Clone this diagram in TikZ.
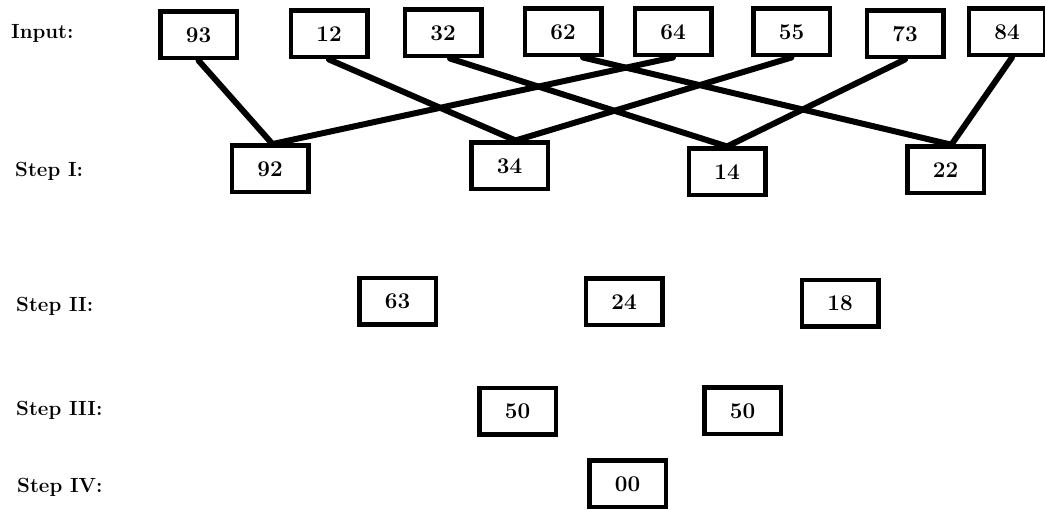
\documentclass[tikz,border=0pt]{standalone}
\usepackage{fontspec}
\begin{document}
\begin{tikzpicture}[x=1pt,y=-1pt,
  numbox/.style={draw=black,line width=4.5pt,minimum width=76.5pt,minimum height=46.5pt,inner sep=0pt,
    font=\fontsize{22.5}{26}\selectfont\bfseries},
  rowlabel/.style={anchor=base west,inner sep=0pt,font=\fontsize{20.5}{24}\selectfont\bfseries},
  link/.style={line width=6pt,line cap=round}]
\useasboundingbox (0,0) rectangle (1045,510);
% labels
\node[rowlabel] (lin) at (11,39) {Input:};
\node[rowlabel] (l1) at (15,177) {Step I:};
\node[rowlabel] (l2) at (16,311.5) {Step II:};
\node[rowlabel] (l3) at (16,415.5) {Step III:};
\node[rowlabel] (l4) at (17,492.5) {Step IV:};
% input row
\node[numbox] (i93) at (198.5,35) {93};
\node[numbox] (i12) at (329,34) {12};
\node[numbox] (i32) at (443,33) {32};
\node[numbox] (i62) at (563,32) {62};
\node[numbox] (i64) at (673,32) {64};
\node[numbox] (i55) at (791.5,32) {55};
\node[numbox] (i73) at (905,34) {73};
\node[numbox] (i84) at (1007,32) {84};
% step I
\node[numbox] (s92) at (270,169) {92};
\node[numbox] (s34) at (509.5,166) {34};
\node[numbox] (s14) at (727,172) {14};
\node[numbox] (s22) at (945.5,170) {22};
% step II
\node[numbox] (t63) at (397.5,301.5) {63};
\node[numbox] (t24) at (624,302) {24};
\node[numbox] (t18) at (840,303.5) {18};
% step III
\node[numbox] (u50a) at (517.5,411.5) {50};
\node[numbox] (u50b) at (742.5,411) {50};
% step IV
\node[numbox] (v00) at (627.5,484) {00};
% connectors
\draw[link] (i93.south) -- ([xshift=2pt]s92.north);
\draw[link] (i64.south) -- ([xshift=5pt]s92.north);
\draw[link] (i12.south) -- ([xshift=6pt]s34.north);
\draw[link] (i55.south) -- ([xshift=6pt]s34.north);
\draw[link] ([xshift=7pt]i32.south) -- (s14.north);
\draw[link] (i73.south) -- (s14.north);
\draw[link] ([xshift=20pt]i62.south) -- ([xshift=5pt]s22.north);
\draw[link] ([xshift=5pt]i84.south) -- ([xshift=6pt]s22.north);
\end{tikzpicture}
\end{document}
